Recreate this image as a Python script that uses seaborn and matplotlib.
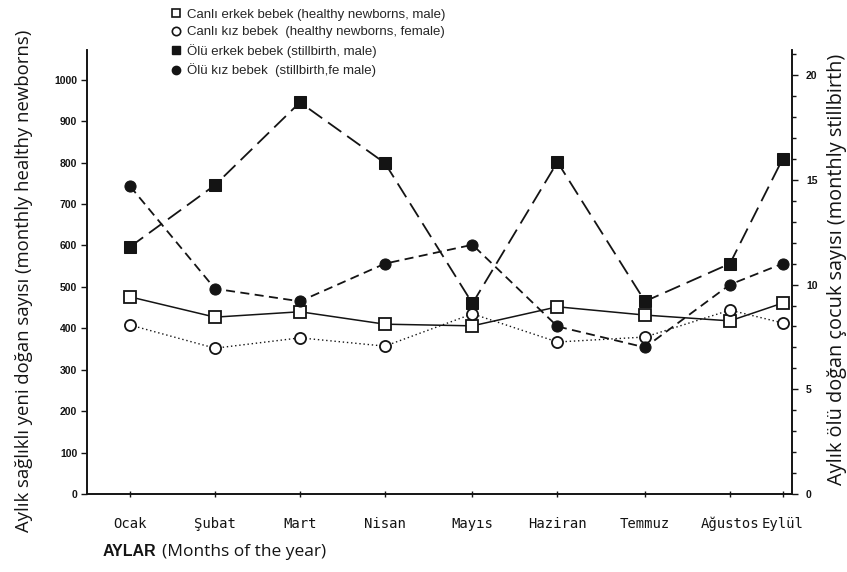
import numpy as np
import pandas as pd
import matplotlib
matplotlib.use('Agg')
import matplotlib.pyplot as plt
from matplotlib.lines import Line2D
from matplotlib.ticker import MultipleLocator
import seaborn as sns

# Data

months = ['Ocak', 'Şubat', 'Mart', 'Nisan', 'Mayıs', 'Haziran', 'Temmuz', 'Ağustos', 'Eylül']

# healthy newborns (left axis)
healthy_male = [476, 427, 440, 410, 406, 452, 432, 418, 461]
healthy_female = [408, 352, 377, 357, 435, 367, 379, 444, 413]

# stillbirths (right axis)
still_male = [11.8, 14.75, 18.7, 15.8, 9.1, 15.85, 9.2, 11.0, 16.0]
still_female = [14.7, 9.8, 9.2, 11.0, 11.9, 8.0, 7.0, 10.0, 11.0]

# layout: month positions on the x axis (last two are squeezed in the original)
month_x = [0, 1, 2, 3, 4.03, 5.03, 6.06, 7.06, 7.68]

ink = '#141414'

sns.set_style('ticks')
plt.rcParams['font.family'] = ['Liberation Sans', 'DejaVu Sans']

fig = plt.figure(figsize=(8.47, 5.72), dpi=100)
ax = fig.add_axes([87/847, 78/572, 705/847, 444/572])
ax2 = ax.twinx()

# Healthy newborns

sns.lineplot(x=month_x, y=healthy_male, ax=ax, color=ink, lw=1.1,
             marker='s', markersize=8, markerfacecolor='white',
             markeredgecolor=ink, markeredgewidth=1.3)
sns.lineplot(x=month_x, y=healthy_female, ax=ax, color=ink, lw=1.0,
             linestyle=(0, (1, 2)),
             marker='o', markersize=8, markerfacecolor='white',
             markeredgecolor=ink, markeredgewidth=1.3)

# Stillbirths

sns.lineplot(x=month_x, y=still_male, ax=ax2, color=ink, lw=1.3,
             linestyle=(0, (9, 4)),
             marker='s', markersize=8, markerfacecolor=ink,
             markeredgecolor=ink)
sns.lineplot(x=month_x, y=still_female, ax=ax2, color=ink, lw=1.3,
             linestyle=(0, (5, 3)),
             marker='o', markersize=8, markerfacecolor=ink,
             markeredgecolor=ink)

# Axes

ax.set_xlim(-0.506, 7.79)
ax.set_ylim(0, 1072)
ax2.set_ylim(0, 21.2)

ax.set_yticks(range(0, 1001, 100))
ax2.set_yticks(range(0, 21, 5))
ax2.yaxis.set_minor_locator(MultipleLocator(1))

ax.set_xticks(month_x)
ax.set_xticklabels(months, fontfamily='DejaVu Sans Mono', fontsize=10)

for a in (ax, ax2):
    a.spines['top'].set_visible(False)
    for s in a.spines.values():
        s.set_color(ink)
        s.set_linewidth(1.2)

ax.tick_params(axis='y', labelsize=7.5, length=4, width=1, colors=ink, pad=3)
ax.tick_params(axis='x', direction='inout', length=5, width=1, colors=ink, pad=14)
ax2.tick_params(axis='y', which='major', labelsize=7.5, length=4, width=1,
                colors=ink, pad=6)
ax2.tick_params(axis='y', which='minor', length=3, width=1, colors=ink)
for lab in ax.get_yticklabels() + ax2.get_yticklabels():
    lab.set_fontweight('bold')

ax.set_ylabel('')
ax2.set_ylabel('')

# Labels

fig.text(24/847, 1 - 281/572, 'Aylık sağlıklı yeni doğan sayısı (monthly healthy newborns)',
         rotation=90, ha='center', va='center', fontsize=13.3,
         fontfamily='Open Sans', color=ink)
fig.text(837/847, 1 - 269/572, 'Aylık ölü doğan çocuk sayısı (monthly stillbirth)',
         rotation=90, ha='center', va='center', fontsize=14.3,
         fontfamily='Open Sans', color=ink)
fig.text(103/847, 1 - 552/572, 'AYLAR', fontsize=11.5, fontweight='bold',
         ha='left', va='center', color=ink)
fig.text(162/847, 1 - 552/572, '(Months of the year)', fontsize=12.5,
         fontfamily='Open Sans', ha='left', va='center', color=ink)

# Legend

handles = [
    Line2D([], [], ls='none', marker='s', ms=6, mfc='white', mec=ink, mew=1.2),
    Line2D([], [], ls='none', marker='o', ms=6, mfc='white', mec=ink, mew=1.2),
    Line2D([], [], ls='none', marker='s', ms=6, mfc=ink, mec=ink),
    Line2D([], [], ls='none', marker='o', ms=6, mfc=ink, mec=ink),
]
labels = [
    'Canlı erkek bebek (healthy newborns, male)',
    'Canlı kız bebek  (healthy newborns, female)',
    'Ölü erkek bebek (stillbirth, male)',
    'Ölü kız bebek  (stillbirth,fe male)',
]
fig.legend(handles, labels, loc='upper left', bbox_to_anchor=(167/847, 1 - 3/572),
           frameon=False, fontsize=9.5, handlelength=0.6, handletextpad=0.5,
           labelspacing=0.42, borderaxespad=0)

fig.savefig('out.png', dpi=100)
